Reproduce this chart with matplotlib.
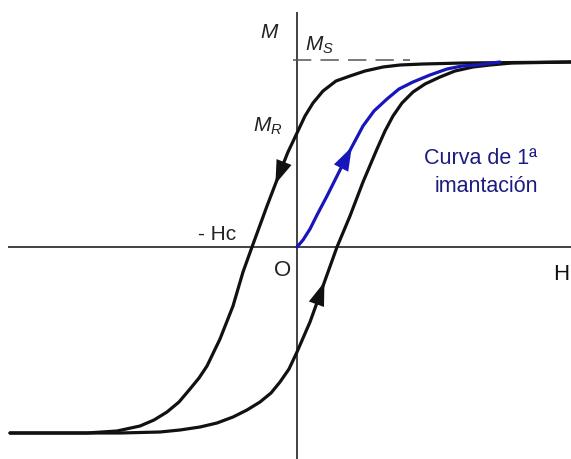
import numpy as np
import matplotlib
matplotlib.use("Agg")
import matplotlib.pyplot as plt

plt.rcParams['font.family'] = ['Liberation Sans', 'DejaVu Sans']
plt.rcParams['mathtext.fontset'] = 'custom'
plt.rcParams['mathtext.it'] = 'Liberation Sans:italic'
plt.rcParams['mathtext.rm'] = 'Liberation Sans'

# Descending branch of the hysteresis loop (from +saturation to -saturation)
down_H = [274, 166, 126, 103, 86, 68, 53, 39, 26, 16, 8, 0, -9, -17, -30, -45, -54,
          -64, -77, -90, -98, -107, -118, -130, -143, -157, -180, -210, -287]
down_M = [185, 184, 183, 182, 180, 176, 171, 166, 156, 144, 131, 114, 95, 75, 41, 0, -25,
          -59, -92, -119, -131, -142, -155, -165, -173, -179, -184, -186, -186]

# Ascending branch (from -saturation back to +saturation)
up_H = [-287, -177, -137, -117, -97, -80, -64, -50, -37, -26, -17, -8, 0, 13, 26, 40, 53,
        66, 80, 88, 96, 105, 116, 128, 143, 158, 176, 193, 215, 274]
up_M = [-186, -186, -185, -183, -180, -176, -170, -163, -155, -146, -135, -122, -105, -75,
        -39, 0, 31, 65, 98, 116, 131, 144, 155, 163, 170, 176, 180, 182, 184, 185]

# First magnetization curve starting at the origin
first_H = [0, 6, 13, 20, 30, 50, 66, 77, 90, 102, 116, 133, 150, 165, 180, 203]
first_M = [0, 7, 18, 32, 51, 91, 121, 136, 148, 158, 165, 172, 178, 181, 182, 185]

Ms = 187
black = '#111111'
blue = '#1616bb'
navy = '#1c1c80'

fig = plt.figure(figsize=(5.71, 4.60), dpi=100)
ax = fig.add_axes([0, 0, 1, 1])
ax.set_xlim(-297, 274)
ax.set_ylim(-212, 248)
ax.axis('off')

# Coordinate axes
ax.plot([-289, 274], [0, 0], color='#222222', lw=1.2, solid_capstyle='butt')
ax.plot([0, 0], [235, -212], color='#222222', lw=1.2, solid_capstyle='butt')

# Saturation level
ax.plot([-4, 113], [Ms, Ms], color='#555555', lw=1.1, dashes=(12, 6))

# Loop and first magnetization curve
for hs, ms, col in ((down_H, down_M, black), (up_H, up_M, black), (first_H, first_M, blue)):
    ax.plot(hs, ms, color=col, lw=2.3, solid_joinstyle='round', solid_capstyle='round')


def arrow_on(Hs, Ms_, m_tip, m_tail, color):
    order = np.argsort(Ms_)
    mm = np.asarray(Ms_, float)[order]
    hh = np.asarray(Hs, float)[order]
    h_tip = np.interp(m_tip, mm, hh)
    h_tail = np.interp(m_tail, mm, hh)
    ax.annotate('', xy=(h_tip, m_tip), xytext=(h_tail, m_tail),
                arrowprops=dict(arrowstyle='-|>,head_length=1.0,head_width=0.34',
                                mutation_scale=17, color=color, lw=0,
                                shrinkA=0, shrinkB=0))


arrow_on(down_H[8:20], down_M[8:20], 63, 92, black)
arrow_on(up_H[8:20], up_M[8:20], -35, -64, black)
arrow_on(first_H, first_M, 100, 70, blue)

# Labels
ax.text(-27, 215, r'$M$', fontsize=15, ha='center', va='center', color='#222222')
ax.text(8, 203, r'$M_S$', fontsize=15, ha='left', va='center', color='#222222')
ax.text(-44, 122, r'$M_R$', fontsize=15, ha='left', va='center', color='#222222')
ax.text(-99, 13, '- Hc', fontsize=15, ha='left', va='center', color='#222222')
ax.text(-14, -22, 'O', fontsize=16, ha='center', va='center', color='#222222')
ax.text(256, -27, 'H', fontsize=16, ha='left', va='center', color='#111111')
ax.text(184, 90, 'Curva de 1ª', fontsize=15.5, ha='center', va='center', color=navy)
ax.text(189, 62, 'imantación', fontsize=15.5, ha='center', va='center', color=navy)

fig.savefig('out.png', dpi=100)
